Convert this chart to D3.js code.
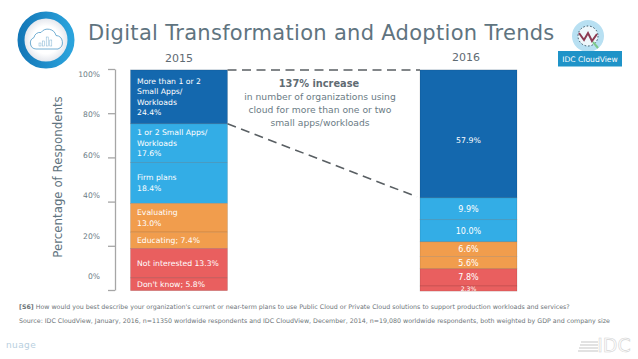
<!DOCTYPE html>
<html>
<head>
<meta charset="utf-8">
<script src="https://cdn.jsdelivr.net/npm/d3@7"></script>
<style>
  html, body { margin: 0; padding: 0; background: #fff; }
  svg { display: block; }
  text { font-family: "DejaVu Sans", sans-serif; }
</style>
</head>
<body>
<div id="chart"></div>
<script>
const years = ['2015', '2016'];
const segmentNames = ['more', 'small', 'firm', 'evaluating', 'educating', 'notInterested', 'dontKnow'];
const values2015 = [24.4, 17.6, 18.4, 13.0, 7.4, 13.3, 5.8];
const values2016 = [57.9, 9.9, 10.0, 6.6, 5.6, 7.8, 2.3];
const labels2015 = [
    ['More than 1 or 2', 'Small Apps/', 'Workloads', '24.4%'],
    ['1 or 2 Small Apps/', 'Workloads', '17.6%'],
    ['Firm plans', '18.4%'],
    ['Evaluating', '13.0%'],
    ['Educating; 7.4%'],
    ['Not interested 13.3%'],
    ["Don't know; 5.8%"]
];
const labels2016 = ['57.9%', '9.9%', '10.0%', '6.6%', '5.6%', '7.8%', '2.3%'];
const segmentColors = ['#1468ae', '#33ade6', '#33ade6', '#f19d4d', '#f19d4d', '#e95f5f', '#e95f5f'];
const axisTicks = [0, 20, 40, 60, 80, 100];
const calloutLines = ['in number of organizations using', 'cloud for more than one or two', 'small apps/workloads'];

const width = 638, height = 359;

const svg = d3.select('#chart')
    .append('svg')
    .attr('width', width)
    .attr('height', height);

// bars
const x = d3.scalePoint().domain(years).range([179, 468.5]);
const barWidth = 97;
const y = d3.scaleLinear().domain([0, 100]).range([291, 70]);

function stack(values) {
    let top = 100.05;
    return values.map((v, i) => {
        const d = { name: segmentNames[i], y0: top, y1: top - v, color: segmentColors[i] };
        top -= v;
        return d;
    });
}

const g2015 = svg.append('g').attr('transform', `translate(${x('2015') - barWidth / 2},0)`);
const g2016 = svg.append('g').attr('transform', `translate(${x('2016') - barWidth / 2},0)`);

[[g2015, values2015], [g2016, values2016]].forEach(([g, values]) => {
    g.selectAll('.seg')
        .data(stack(values))
        .enter()
        .append('rect')
        .attr('class', 'seg')
        .attr('x', 0)
        .attr('width', barWidth)
        .attr('y', d => y(d.y0))
        .attr('height', d => y(d.y1) - y(d.y0))
        .attr('fill', d => d.color)
        .attr('stroke', '#000')
        .attr('stroke-opacity', 0.18)
        .attr('stroke-width', 0.6);
});

// labels inside bars
stack(values2015).forEach((d, i) => {
    const lines = labels2015[i];
    const mid = (y(d.y0) + y(d.y1)) / 2;
    const lh = 10.6;
    lines.forEach((line, j) => {
        g2015.append('text')
            .attr('x', 6.5)
            .attr('y', mid + (j - (lines.length - 1) / 2) * lh + 2.6)
            .attr('fill', '#fff')
            .attr('font-size', 7.7)
            .text(line);
    });
});
stack(values2016).forEach((d, i) => {
    // the big top label sits a bit below the middle of its segment, the last one is squeezed
    const shift = i === 0 ? 6.5 : i === 6 ? -0.8 : 0;
    g2016.append('text')
        .attr('x', barWidth / 2)
        .attr('y', (y(d.y0) + y(d.y1)) / 2 + 3 + shift)
        .attr('text-anchor', 'middle')
        .attr('fill', '#fff')
        .attr('font-size', i === 6 ? 6.2 : i === 0 ? 7.8 : 8)
        .text(labels2016[i]);
});

// axis
const axisG = svg.append('g')
    .attr('transform', 'translate(115,0)')
    .call(d3.axisLeft(d3.scaleLinear().domain([0, 100]).range([290, 69]))
        .tickValues(axisTicks)
        .tickSize(7)
        .tickSizeOuter(0)
        .tickFormat(''));
axisG.selectAll('path, line').attr('stroke', '#a6a6a6').attr('stroke-width', 1.3);

// the tick labels sit on their own spacing in the original slide
const labelY = d3.scaleLinear().domain([0, 100]).range([279, 77]);
svg.selectAll('.tickLabel')
    .data(axisTicks)
    .enter()
    .append('text')
    .attr('class', 'tickLabel')
    .attr('x', 100)
    .attr('y', d => labelY(d))
    .attr('text-anchor', 'end')
    .attr('fill', '#6b7b85')
    .attr('font-size', 7.6)
    .text(d => d + '%');

svg.append('text')
    .attr('transform', 'translate(62,177) rotate(-90)')
    .attr('text-anchor', 'middle')
    .attr('fill', '#5f7480')
    .attr('font-size', 11.8)
    .text('Percentage of Respondents');

// title + year headings
svg.append('text')
    .attr('x', 88)
    .attr('y', 40)
    .attr('fill', '#5f7480')
    .attr('font-size', 21)
    .attr('letter-spacing', 0.3)
    .text('Digital Transformation and Adoption Trends');

svg.selectAll('.year')
    .data(years)
    .enter()
    .append('text')
    .attr('class', 'year')
    .attr('x', d => d === '2016' ? x(d) - 2.5 : x(d))
    .attr('y', d => d === '2016' ? 61 : 62)
    .attr('text-anchor', 'middle')
    .attr('fill', '#5f6b73')
    .attr('font-size', 11)
    .text(d => d);

// dashed connectors, from the top segment of 2015 to the top segment of 2016
const connector = [
    [[x('2015') + barWidth / 2, y(100)], [x('2016') - barWidth / 2, y(100)]],
    [[x('2015') + barWidth / 2, y(100.05 - values2015[0])], [x('2016') - barWidth / 2 - 3, y(100.05 - values2016[0]) - 1]]
];
svg.selectAll('.connector')
    .data(connector)
    .enter()
    .append('path')
    .attr('class', 'connector')
    .attr('d', d3.line())
    .attr('fill', 'none')
    .attr('stroke', '#595f63')
    .attr('stroke-width', 1.6)
    .attr('stroke-dasharray', '9 5.5');

// callout
svg.append('text')
    .attr('x', 319)
    .attr('y', 87)
    .attr('text-anchor', 'middle')
    .attr('fill', '#5f6b73')
    .attr('font-size', 9.8)
    .attr('font-weight', 'bold')
    .text('137% increase');
calloutLines.forEach((line, i) => {
    svg.append('text')
        .attr('x', 320)
        .attr('y', 100 + i * 13)
        .attr('text-anchor', 'middle')
        .attr('fill', '#6b7b85')
        .attr('font-size', 9.2)
        .text(line);
});

// footnotes
const notes = svg.append('g').attr('fill', '#6d7478').attr('font-size', 6.3);
const q = notes.append('text').attr('x', 19).attr('y', 309);
q.append('tspan').attr('font-weight', 'bold').text('[S6]');
q.append('tspan').text(" How would you best describe your organization's current or near-term plans to use Public Cloud or Private Cloud solutions to support production workloads and services?");
notes.append('text').attr('x', 19).attr('y', 323)
    .text('Source: IDC CloudView, January, 2016, n=11350 worldwide respondents and IDC CloudView, December, 2014, n=19,080 worldwide respondents, both weighted by GDP and company size');

// round cloud logo
const defs = svg.append('defs');
const ringGrad = defs.append('linearGradient').attr('id', 'ring');
ringGrad.append('stop').attr('offset', '0%').attr('stop-color', '#1478b8');
ringGrad.append('stop').attr('offset', '100%').attr('stop-color', '#2ba3dc');
const faceGrad = defs.append('radialGradient').attr('id', 'face');
faceGrad.append('stop').attr('offset', '55%').attr('stop-color', '#ffffff');
faceGrad.append('stop').attr('offset', '100%').attr('stop-color', '#d9dde6');

const logo = svg.append('g').attr('transform', 'translate(46,40)');
logo.append('circle').attr('r', 25).attr('fill', 'url(#face)').attr('stroke', 'url(#ring)').attr('stroke-width', 7);
logo.append('path')
    .attr('d', 'M-10,9 a6,6 0 0 1 -2,-11.5 a6,6 0 0 1 7,-5 a8.5,8.5 0 0 1 15,3 a7,7 0 0 1 2,13.5 z')
    .attr('fill', 'none').attr('stroke', '#4f9ac8').attr('stroke-width', 0.8);
logo.selectAll('.mini')
    .data([3, 5, 9, 6])
    .enter()
    .append('rect')
    .attr('class', 'mini')
    .attr('x', (d, i) => -7 + i * 3.6)
    .attr('y', d => 6 - d)
    .attr('width', 2)
    .attr('height', d => d)
    .attr('fill', 'none')
    .attr('stroke', '#7fb2d2')
    .attr('stroke-width', 0.5);

// IDC CloudView badge
svg.append('circle').attr('cx', 588).attr('cy', 36).attr('r', 16).attr('fill', '#b8e0f2');
svg.append('circle').attr('cx', 588).attr('cy', 36).attr('r', 10).attr('fill', '#eef7fb')
    .attr('stroke', '#39505f').attr('stroke-width', 1).attr('stroke-dasharray', '1.5 2');
svg.append('path').attr('d', 'M579,33 L584,40 L588,33 L592,41 L597,34')
    .attr('fill', 'none').attr('stroke', '#8c3a52').attr('stroke-width', 2);
svg.append('path').attr('d', 'M593,42 L598,48').attr('stroke', '#7cc98a').attr('stroke-width', 2);
svg.append('rect').attr('x', 558).attr('y', 51).attr('width', 64).attr('height', 15.5).attr('fill', '#1f93c8');
svg.append('text').attr('x', 590).attr('y', 62).attr('text-anchor', 'middle')
    .attr('fill', '#fff').attr('font-size', 7.6).text('IDC CloudView');

// bottom logos
svg.append('text').attr('x', 6).attr('y', 348).attr('fill', '#b8cfe0').attr('font-size', 9).attr('letter-spacing', 0.4).text('nuage');
svg.append('text').attr('x', 614).attr('y', 352).attr('text-anchor', 'middle')
    .attr('fill', '#fff').attr('stroke', '#d4d4d4').attr('stroke-width', 0.6)
    .attr('font-family', 'Liberation Serif').attr('font-size', 19).text('IDC');
svg.append('g').selectAll('line')
    .data([342, 345, 348, 351])
    .enter()
    .append('line')
    .attr('x1', (d, i) => 581 - i)
    .attr('x2', 598)
    .attr('y1', d => d)
    .attr('y2', d => d)
    .attr('stroke', '#d8d8d8')
    .attr('stroke-width', 1.5);
</script>
</body>
</html>
